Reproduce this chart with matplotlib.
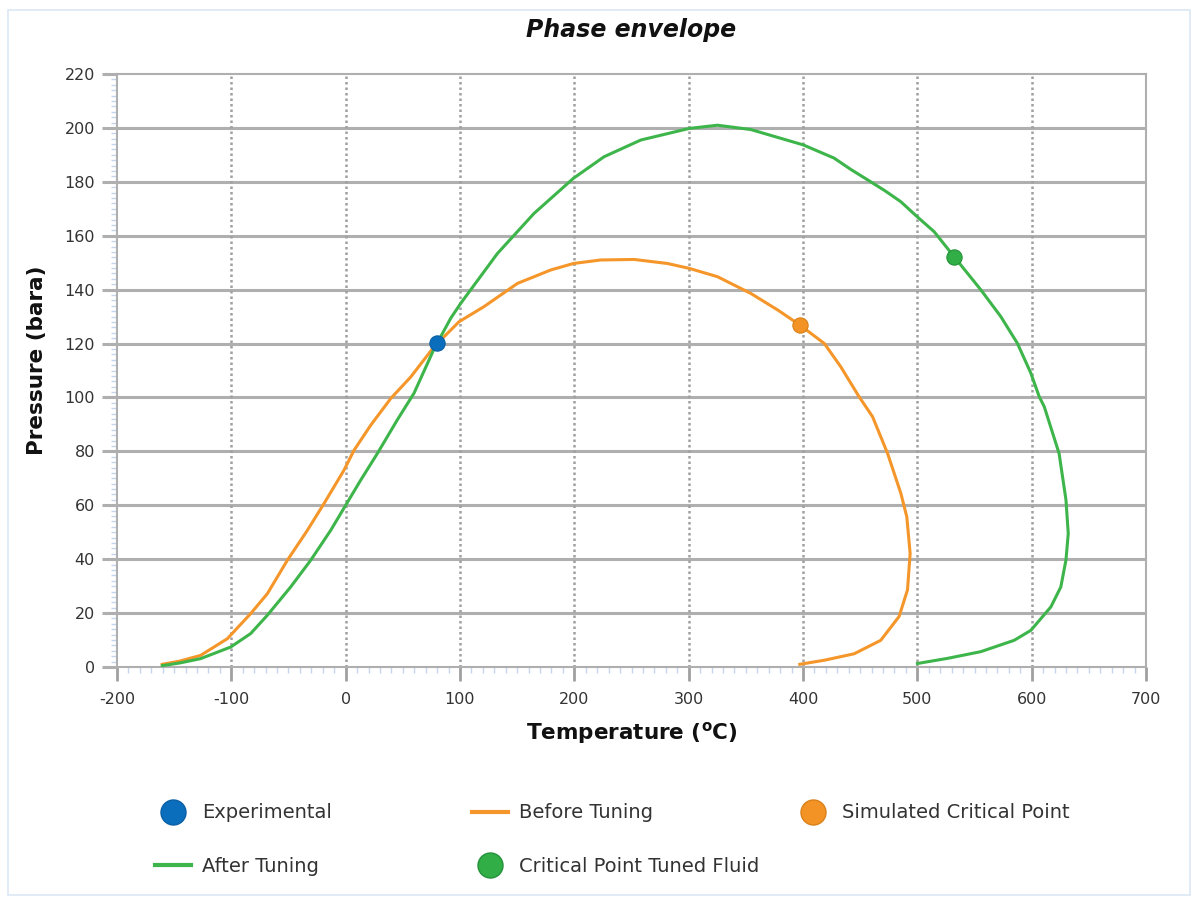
import matplotlib
matplotlib.use("Agg")
import matplotlib.pyplot as plt
from matplotlib.lines import Line2D
from matplotlib.patches import Rectangle
from matplotlib.ticker import MultipleLocator

# ---------------- data ----------------
before_T = [-160.4, -145, -126.9, -103.5, -83.1, -68.5, -51, -33.5, -19, -1.5, 7.3, 21.9,
            39.4, 56.9, 77.3, 99.2, 121, 150.2, 179.4, 199.2, 223, 252.3, 281.4, 300.4,
            325.2, 354.3, 377.7, 397.2, 418.7, 433, 449, 460.8, 474, 485.6, 490.8, 493.7,
            491.4, 484, 468, 444.7, 418.5, 397.2]
before_P = [1.0, 2.2, 4.3, 10.5, 19.8, 27.2, 39.6, 50.7, 60.6, 73, 80.4, 89.7,
            99.6, 107.6, 118.8, 128.1, 133.7, 142.3, 147.3, 149.7, 151, 151.2, 149.7, 147.9,
            144.8, 138.6, 132.5, 126.9, 120, 111.4, 100.3, 92.9, 79.2, 64.4, 55.7, 42.1,
            28.6, 18.7, 9.9, 4.9, 2.5, 1.0]

after_T = [-160.4, -145, -126.9, -100.6, -83.1, -68.5, -48.1, -30.6, -13.1, 0, 13.1, 27.7,
           45.2, 59.8, 77.3, 91.9, 100.6, 132.7, 164.8, 199.2, 226, 258.1, 300.4, 325.2,
           354.3, 400.2, 427.2, 441.8, 457, 472, 485.6, 500, 514.7, 532.2, 555.6, 573, 587.5,
           599.3, 606.6, 611, 624, 630, 632, 630, 625.5, 616.8, 599.3, 584.7, 555.6,
           526.4, 500.1]
after_P = [0.5, 1.5, 3.1, 7.4, 12.4, 19.2, 29.7, 39.6, 50.7, 60, 69.3, 79.2,
           91.7, 101.6, 118.0, 129.4, 134.9, 153.4, 168.3, 181.3, 189.3, 195.5, 199.8, 201,
           199.4, 193.7, 188.8, 184.6, 180.6, 176.6, 172.6, 167, 161.5, 152.2, 139.9, 130, 120.1,
           109, 100.3, 96.6, 79.2, 62, 49.5, 39.7, 29.7, 22.3, 13.6, 9.9, 5.7,
           3.2, 1.3]

exp_T, exp_P = [79.6], [120.2]
sim_cp_T, sim_cp_P = [397.0], [127.0]
tuned_cp_T, tuned_cp_P = [532.2], [152.2]

x_ticks = [-200, -100, 0, 100, 200, 300, 400, 500, 600, 700]
y_ticks = [0, 20, 40, 60, 80, 100, 120, 140, 160, 180, 200, 220]

# ---------------- style ----------------
C_ORANGE = "#F5962A"
C_ORANGE_M = "#F39325"
C_GREEN = "#3DB54A"
C_GREEN_M = "#31AE45"
C_BLUE = "#0A6EBD"
GRID = "#AFAFAF"
plt.rcParams["font.family"] = ["DejaVu Sans"]
plt.rcParams["axes.unicode_minus"] = False
plt.rcParams["mathtext.fontset"] = "dejavusans"

W, H = 1200, 901
fig = plt.figure(figsize=(W / 100, H / 100), dpi=100)
fig.patch.set_facecolor("white")
fig.add_artist(Rectangle((8 / W, 1 - 895 / H), (1190 - 8) / W, (895 - 10) / H,
                         transform=fig.transFigure, fill=False, edgecolor="#DCE7F4", lw=1.2))

L, R, T, B = 117, 1146, 74, 667
ax = fig.add_axes([L / W, 1 - B / H, (R - L) / W, (B - T) / H])
ax.set_xlim(-200, 700)
ax.set_ylim(0, 220)

ax.set_xticks(x_ticks)
ax.set_yticks(y_ticks)
ax.xaxis.set_minor_locator(MultipleLocator(10))
ax.yaxis.set_minor_locator(MultipleLocator(2))
ax.tick_params(axis="y", which="major", length=11, width=2.2, color=GRID,
               labelsize=11.5, labelcolor="#333333", pad=5)
ax.tick_params(axis="x", which="major", length=10, width=2.0, color="#A0A0A0",
               labelsize=11.5, labelcolor="#333333", pad=8)
ax.tick_params(which="minor", length=4, width=1, color="#C5D6EC")

for yv in y_ticks[1:-1]:
    ax.axhline(yv, color=GRID, lw=2.2, zorder=1)
for xv in x_ticks[1:-1]:
    ax.axvline(xv, color="#A0A0A0", lw=1.8, ls=(0, (1, 1.2)), zorder=1)

for s in ax.spines.values():
    s.set_color(GRID)
    s.set_linewidth(1.5)

ax.plot(before_T, before_P, color=C_ORANGE, lw=2.2, zorder=3)
ax.plot(after_T, after_P, color=C_GREEN, lw=2.2, zorder=3)
ax.plot(exp_T, exp_P, "o", color=C_BLUE, ms=11, mec="#0A5FA5", mew=0.8, zorder=5)
ax.plot(sim_cp_T, sim_cp_P, "o", color=C_ORANGE_M, ms=11, mec="#D98019", mew=0.8, zorder=5)
ax.plot(tuned_cp_T, tuned_cp_P, "o", color=C_GREEN_M, ms=11, mec="#24923A", mew=0.8, zorder=5)

# titles / labels
fig.text(631 / W, 1 - 30 / H, "Phase envelope", ha="center", va="center",
         fontsize=17, fontweight="bold", fontstyle="italic", color="#111111")
fig.text(632 / W, 1 - 733 / H, r"Temperature ($^{\mathbf{o}}$C)", ha="center", va="center",
         fontsize=15.5, fontweight="bold", color="#111111")
fig.text(37 / W, 1 - 360 / H, "Pressure (bara)", ha="center", va="center", rotation=90,
         fontsize=15.5, fontweight="bold", color="#111111")

# legend entries, each placed at its own slot
def entry(handle, label, x, y):
    lg = fig.legend([handle], [label], loc="center left",
                    bbox_to_anchor=(x / W, 1 - y / H), bbox_transform=fig.transFigure,
                    frameon=False, borderpad=0, borderaxespad=0, handlelength=1.86,
                    handletextpad=0.57, fontsize=14)
    for t in lg.get_texts():
        t.set_color("#333333")
    return lg

h_exp = Line2D([], [], ls="none", marker="o", ms=18, color=C_BLUE, mec="#0A5FA5")
h_before = Line2D([], [], color=C_ORANGE, lw=3)
h_sim = Line2D([], [], ls="none", marker="o", ms=18, color=C_ORANGE_M, mec="#D98019")
h_after = Line2D([], [], color=C_GREEN, lw=3)
h_tuned = Line2D([], [], ls="none", marker="o", ms=18, color=C_GREEN_M, mec="#24923A")

entry(h_exp, "Experimental", 155, 813)
entry(h_before, "Before Tuning", 472, 813)
entry(h_sim, "Simulated Critical Point", 795, 813)
entry(h_after, "After Tuning", 155, 866)
entry(h_tuned, "Critical Point Tuned Fluid", 472, 866)

fig.savefig("out.png", dpi=100, facecolor="white")
